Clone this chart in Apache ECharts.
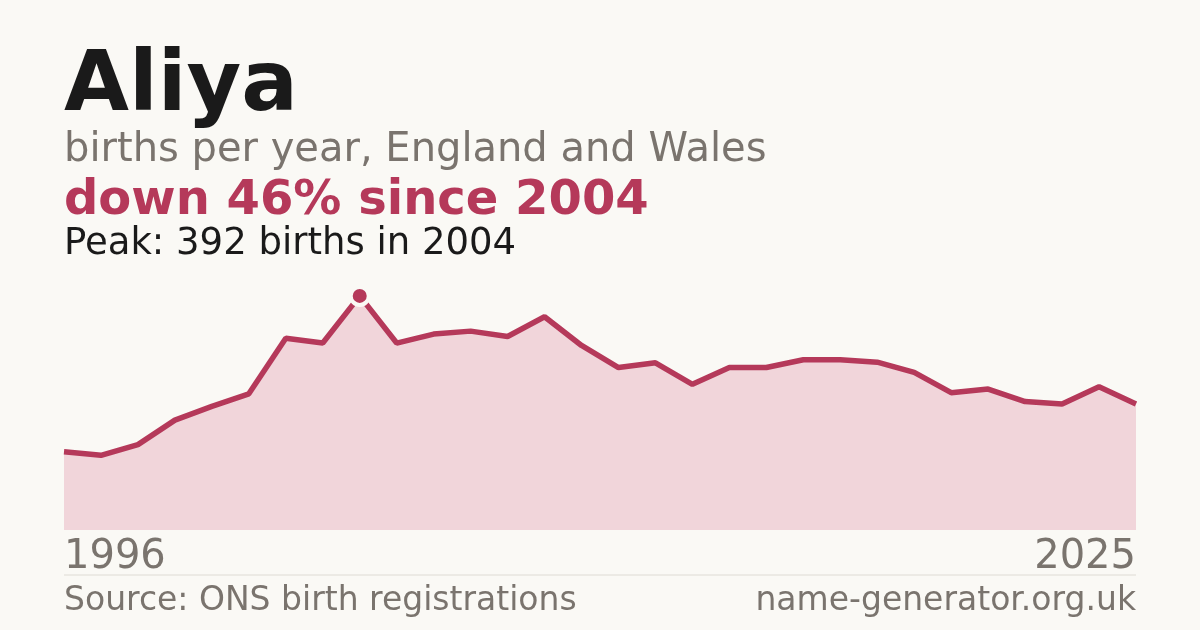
<!DOCTYPE html>
<html>
<head>
<meta charset="utf-8">
<script src="https://cdn.jsdelivr.net/npm/echarts@6/dist/echarts.min.js"></script>
<style>
html,body{margin:0;padding:0;background:#faf9f5;}
#chart{width:1200px;height:630px;}
</style>
</head>
<body>
<div id="chart"></div>
<script>
const years = ['1996','1997','1998','1999','2000','2001','2002','2003','2004','2005','2006','2007','2008','2009','2010','2011','2012','2013','2014','2015','2016','2017','2018','2019','2020','2021','2022','2023','2024','2025'];
const births = [131,125,143,184,207,228,321,313,392,313,328,333,324,357,309,272,280,244,272,272,285,285,281,264,230,236,215,211,240,211];
const titleText = 'Aliya';
const subtitleText = 'births per year, England and Wales';
const changeText = 'down 46% since 2004';
const peakText = 'Peak: 392 births in 2004';
const sourceText = 'Source: ONS birth registrations';
const siteText = 'name-generator.org.uk';

const FONT = '"DejaVu Sans", sans-serif';
const RED = '#b5395a';
const GRAY = '#7a746e';

const chart = echarts.init(document.getElementById('chart'), null, {renderer:'canvas'});
chart.setOption({
  backgroundColor: '#faf9f5',
  animation: false,
  grid: {left: 64, right: 64, top: 272, bottom: 100},
  xAxis: {
    type: 'category',
    data: years,
    boundaryGap: false,
    axisLine: {show: false},
    axisTick: {show: false},
    splitLine: {show: false},
    axisLabel: {
      show: true,
      interval: function (i) { return i === 0 || i === years.length - 1; },
      color: GRAY,
      fontFamily: FONT,
      fontSize: 40,
      margin: 8,
      alignMinLabel: 'left',
      alignMaxLabel: 'right'
    }
  },
  yAxis: {
    type: 'value',
    min: 0,
    max: 432,
    show: false
  },
  series: [{
    type: 'line',
    data: births,
    showSymbol: false,
    lineStyle: {color: RED, width: 5.5},
    areaStyle: {color: '#f1d5da', opacity: 1},
    itemStyle: {color: RED},
    markPoint: {
      symbol: 'circle',
      symbolSize: 18,
      label: {show: false},
      itemStyle: {color: RED, borderColor: '#faf9f5', borderWidth: 4},
      data: [{type: 'max'}]
    }
  }],
  graphic: [
    {type: 'text', left: 64, top: 46, style: {text: titleText, fontFamily: FONT, fontWeight: 'bold', fontSize: 84, fill: '#1a1a1a'}},
    {type: 'text', left: 64, top: 131, style: {text: subtitleText, fontFamily: FONT, fontSize: 40, fill: GRAY}},
    {type: 'text', left: 64, top: 178, style: {text: changeText, fontFamily: FONT, fontWeight: 'bold', fontSize: 48, fill: RED}},
    {type: 'text', left: 64, top: 226, style: {text: peakText, fontFamily: FONT, fontSize: 37, fill: '#1a1a1a'}},
    {type: 'line', shape: {x1: 64, y1: 575, x2: 1136, y2: 575}, style: {stroke: '#dedbd4', lineWidth: 1}},
    {type: 'text', left: 64, top: 585, style: {text: sourceText, fontFamily: FONT, fontSize: 33, fill: GRAY}},
    {type: 'text', right: 64, top: 585, style: {text: siteText, fontFamily: FONT, fontSize: 33, fill: GRAY}}
  ]
});
</script>
</body>
</html>
